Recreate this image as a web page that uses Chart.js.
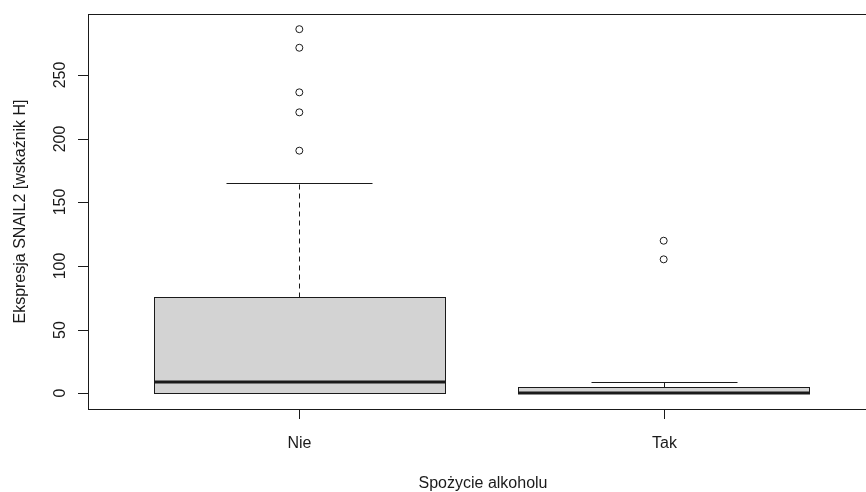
<!DOCTYPE html>
<html>
<head>
<meta charset="utf-8">
<script src="https://cdn.jsdelivr.net/npm/chart.js@4"></script>
<style>
  html, body { margin: 0; padding: 0; overflow: hidden; background: #fff; }
  canvas { display: block; }
</style>
</head>
<body>
<canvas id="boxChart" width="880" height="492"></canvas>
<script>
/* ===== Data ===== */
const categories = ['Nie', 'Tak'];
const whiskerLow = [0, 0];
const q1 = [0, 0];
const median = [9.3, 0];
const q3 = [75.5, 4.9];
const whiskerHigh = [165.5, 9.3];
const outliersNie = [286, 271.4, 236.4, 220.7, 190.6];
const outliersTak = [119.9, 105.3];
const yTicks = [0, 50, 100, 150, 200, 250];

const xTitle = 'Spożycie alkoholu';
const yTitle = 'Ekspresja SNAIL2 [wskaźnik H]';

const INK = '#1a1a1a';
const FONT = '16px "Liberation Sans", Arial, sans-serif';
const BOX_W = 0.8;
const CAP_W = 0.4;
const TICK = 10;

const crisp = v => Math.round(v) + 0.5;

/* ---- boxes, whiskers, frame and axes drawn through the chart's scales ---- */
const rBoxPlot = {
    id: 'rBoxPlot',
    beforeDatasetsDraw(chart) {
        const { ctx, scales: { x, y } } = chart;
        ctx.save();
        categories.forEach((cat, i) => {
            const pos = i + 1;
            const xl = crisp(x.getPixelForValue(pos - BOX_W / 2));
            const xr = crisp(x.getPixelForValue(pos + BOX_W / 2));
            const xc = crisp(x.getPixelForValue(pos));
            const cl = crisp(x.getPixelForValue(pos - CAP_W / 2));
            const cr = crisp(x.getPixelForValue(pos + CAP_W / 2));
            const yq1 = crisp(y.getPixelForValue(q1[i]));
            const yq3 = crisp(y.getPixelForValue(q3[i]));
            const ylo = crisp(y.getPixelForValue(whiskerLow[i]));
            const yhi = crisp(y.getPixelForValue(whiskerHigh[i]));
            const ymed = Math.round(y.getPixelForValue(median[i]));

            // whiskers (dashed)
            ctx.strokeStyle = INK;
            ctx.lineWidth = 1;
            ctx.setLineDash([5, 4]);
            ctx.beginPath();
            ctx.moveTo(xc, yq3); ctx.lineTo(xc, yhi);
            ctx.moveTo(xc, yq1); ctx.lineTo(xc, ylo);
            ctx.stroke();
            ctx.setLineDash([]);

            // caps
            ctx.beginPath();
            ctx.moveTo(cl, yhi); ctx.lineTo(cr, yhi);
            ctx.moveTo(cl, ylo); ctx.lineTo(cr, ylo);
            ctx.stroke();

            // box
            ctx.fillStyle = '#d3d3d3';
            ctx.fillRect(xl, yq3, xr - xl, yq1 - yq3);
            ctx.strokeRect(xl, yq3, xr - xl, yq1 - yq3);

            // median
            ctx.lineWidth = 3;
            ctx.beginPath();
            ctx.moveTo(xl - 0.5, ymed); ctx.lineTo(xr + 0.5, ymed);
            ctx.stroke();
        });
        ctx.restore();
    },
    afterDraw(chart) {
        const { ctx, chartArea: a, scales: { x, y } } = chart;
        ctx.save();
        ctx.strokeStyle = INK;
        ctx.lineWidth = 1;
        ctx.strokeRect(crisp(a.left), crisp(a.top), Math.round(a.right - a.left), Math.round(a.bottom - a.top));

        ctx.fillStyle = INK;
        ctx.font = FONT;

        // y axis ticks + rotated labels
        ctx.textAlign = 'center';
        ctx.textBaseline = 'alphabetic';
        yTicks.forEach(v => {
            const py = crisp(y.getPixelForValue(v));
            ctx.beginPath();
            ctx.moveTo(a.left - TICK, py); ctx.lineTo(a.left, py);
            ctx.stroke();
            ctx.save();
            ctx.translate(a.left - 23, Math.round(y.getPixelForValue(v)));
            ctx.rotate(-Math.PI / 2);
            ctx.fillText(String(v), 0, 0);
            ctx.restore();
        });

        // x axis ticks + labels
        categories.forEach((cat, i) => {
            const px = crisp(x.getPixelForValue(i + 1));
            ctx.beginPath();
            ctx.moveTo(px, a.bottom); ctx.lineTo(px, a.bottom + TICK);
            ctx.stroke();
            ctx.fillText(cat, px, a.bottom + 39);
        });

        // axis titles
        ctx.fillText(xTitle, (a.left + 866) / 2 + 6, a.bottom + 79);
        ctx.save();
        ctx.translate(a.left - 63, (a.top + a.bottom) / 2);
        ctx.rotate(-Math.PI / 2);
        ctx.fillText(yTitle, 0, 0);
        ctx.restore();
        ctx.restore();
    }
};

const outlierPoints = [
    ...outliersNie.map(v => ({ x: 1, y: v })),
    ...outliersTak.map(v => ({ x: 2, y: v }))
];

new Chart(document.getElementById('boxChart'), {
    type: 'scatter',
    data: {
        datasets: [{
            label: 'outliers',
            data: outlierPoints,
            pointStyle: 'circle',
            pointRadius: 3.5,
            pointBorderWidth: 1,
            borderColor: INK,
            backgroundColor: 'rgba(255,255,255,0)'
        }]
    },
    options: {
        responsive: false,
        animation: false,
        layout: { padding: { left: 88, right: 2, top: 14, bottom: 83 } },
        plugins: { legend: { display: false }, tooltip: { enabled: false } },
        scales: {
            x: { type: 'linear', min: 0.42, max: 2.58, display: false },
            y: { type: 'linear', min: -12.2, max: 297.9, display: false }
        }
    },
    plugins: [rBoxPlot]
});
</script>
</body>
</html>
